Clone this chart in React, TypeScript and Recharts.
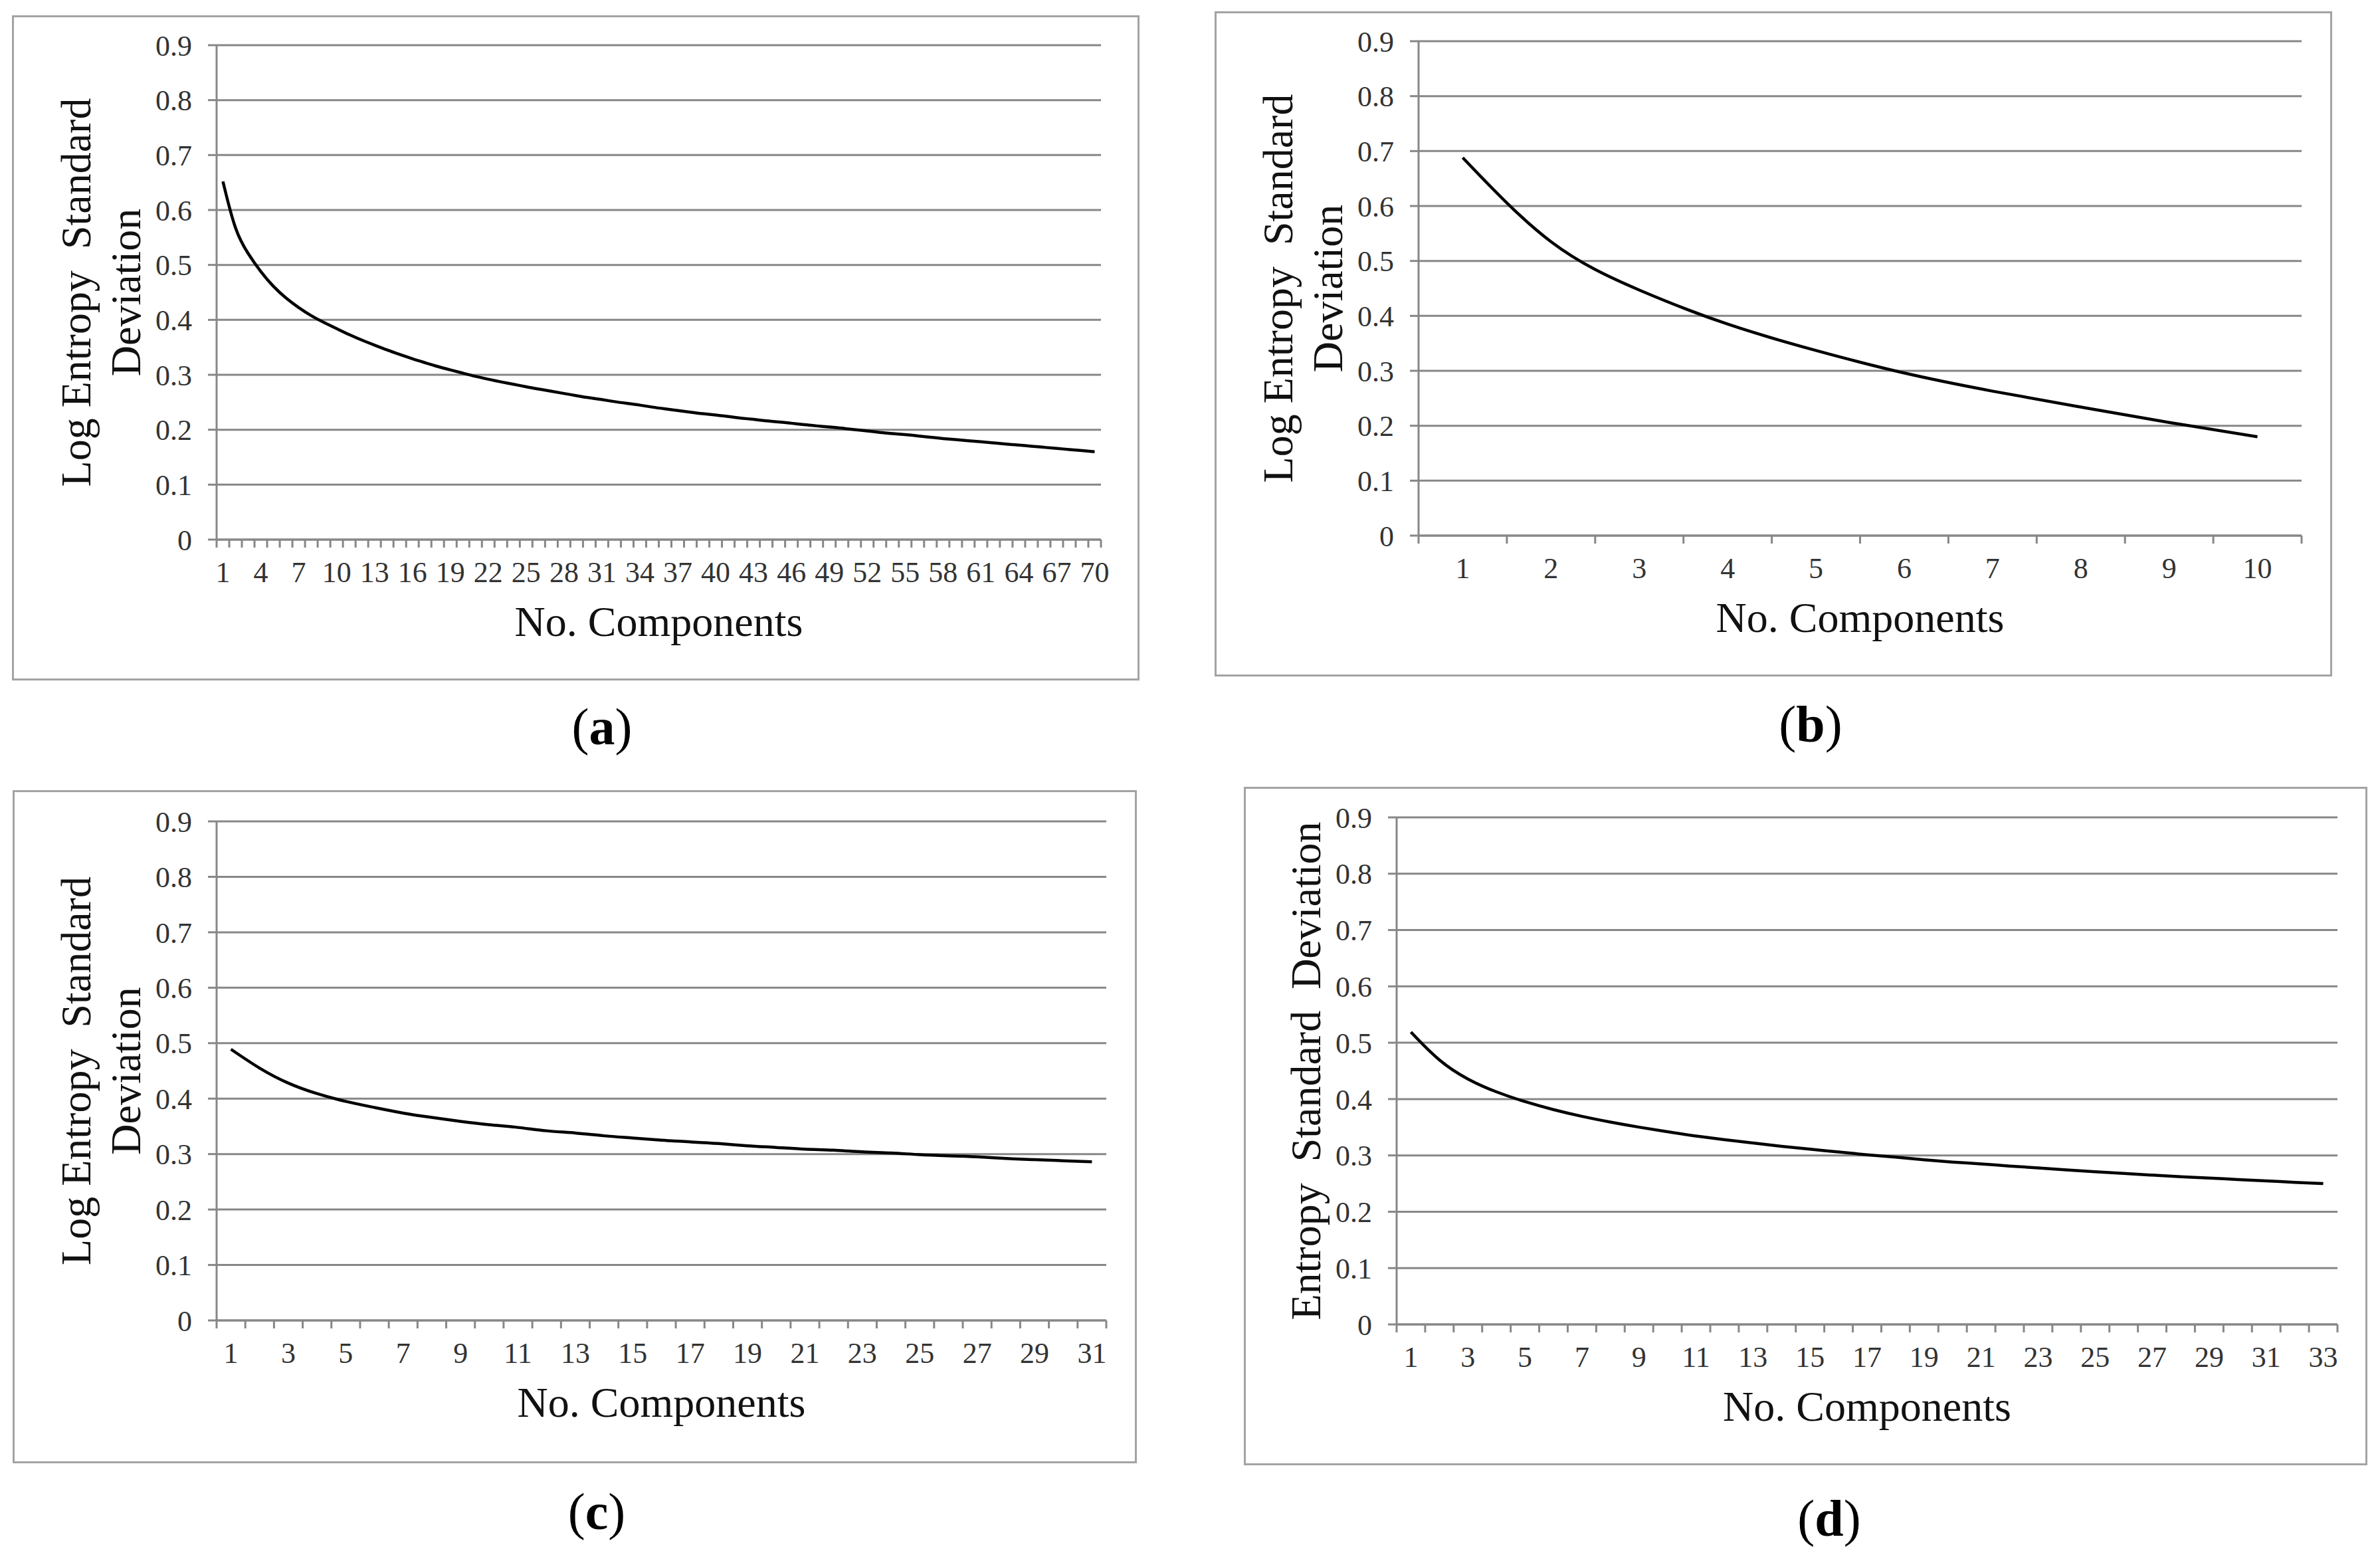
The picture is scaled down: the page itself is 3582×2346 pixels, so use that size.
import { CartesianGrid, Line, LineChart, XAxis, YAxis } from 'recharts';

// values
const seriesA = [
  0.652, 0.558, 0.520, 0.487, 0.460, 0.439, 0.422, 0.407, 0.395, 0.384,
  0.373, 0.363, 0.354, 0.345, 0.337, 0.329, 0.322, 0.315, 0.309, 0.303,
  0.297, 0.292, 0.287, 0.283, 0.278, 0.274, 0.270, 0.266, 0.262, 0.258,
  0.255, 0.251, 0.248, 0.245, 0.241, 0.238, 0.235, 0.232, 0.229, 0.227,
  0.224, 0.221, 0.219, 0.216, 0.214, 0.212, 0.209, 0.207, 0.205, 0.203,
  0.200, 0.198, 0.195, 0.193, 0.191, 0.189, 0.186, 0.184, 0.182, 0.180,
  0.178, 0.176, 0.174, 0.172, 0.170, 0.168, 0.166, 0.164, 0.162, 0.160,
];
const seriesB = [0.688, 0.535, 0.447, 0.385, 0.337, 0.296, 0.263, 0.234, 0.206, 0.180];
const seriesC = [
  0.489, 0.455, 0.428, 0.409, 0.395, 0.384, 0.374, 0.366, 0.359, 0.353,
  0.348, 0.342, 0.338, 0.333, 0.329, 0.325, 0.322, 0.319, 0.315, 0.312,
  0.309, 0.307, 0.304, 0.302, 0.299, 0.297, 0.295, 0.292, 0.290, 0.288,
  0.286,
];
const seriesD = [
  0.519, 0.466, 0.434, 0.412, 0.395, 0.381, 0.369, 0.359, 0.350, 0.342,
  0.334, 0.328, 0.322, 0.316, 0.311, 0.306, 0.301, 0.297, 0.292, 0.288,
  0.285, 0.281, 0.278, 0.274, 0.271, 0.268, 0.265, 0.262, 0.260, 0.257,
  0.255, 0.252, 0.250,
];

// labelled categories on each x axis
const ticksA = [1, 4, 7, 10, 13, 16, 19, 22, 25, 28, 31, 34, 37, 40, 43, 46, 49, 52, 55, 58, 61, 64, 67, 70];
const ticksB = [1, 2, 3, 4, 5, 6, 7, 8, 9, 10];
const ticksC = [1, 3, 5, 7, 9, 11, 13, 15, 17, 19, 21, 23, 25, 27, 29, 31];
const ticksD = [1, 3, 5, 7, 9, 11, 13, 15, 17, 19, 21, 23, 25, 27, 29, 31, 33];

const yTicks = [0, 0.1, 0.2, 0.3, 0.4, 0.5, 0.6, 0.7, 0.8, 0.9];

const titleLog = ['Log Entropy  Standard', 'Deviation'];
const titlePlain = ['Entropy  Standard  Deviation'];
const xTitle = 'No. Components';

const FONT = '"Liberation Serif", "Times New Roman", serif';
const GRID = '#878787';
const TEXT = '#333';

type Rect = { l: number; t: number; r: number; b: number };

const AXW = 120;
const AXH = 100;

function Panel({ box, plot, values, labels, title, curve = 'natural' }: {
  box: Rect; plot: Rect; values: number[]; labels: number[]; title: string[]; curve?: any;
}) {
  const data = values.map((v, i) => ({ k: i + 1, v }));
  const n = values.length;
  const bounds = values.map((_, i) => i + 0.5).concat([n + 0.5]);
  const xTicks = [...bounds, ...labels].sort((a, b) => a - b);
  const W = box.r - box.l;
  const H = box.b - box.t;
  const margin = {
    top: plot.t - box.t,
    right: box.r - plot.r,
    left: plot.l - box.l - AXW,
    bottom: box.b - plot.b - AXH,
  };
  const cy = (plot.t + plot.b) / 2 - box.t;
  const baseX = title.length > 1 ? [plot.l - box.l - 190, plot.l - box.l - 115] : [plot.l - box.l - 115];

  // tick marks sit between categories, labels on the categories
  const renderTick = (props: any) => {
    const { x, y, payload } = props;
    const v = payload.value;
    if (!Number.isInteger(v)) {
      return <line x1={x} x2={x} y1={y} y2={y + 12} stroke={GRID} strokeWidth={3} />;
    }
    return (
      <text x={x} y={y + 64} textAnchor="middle" fontSize={44} fill={TEXT} fontFamily={FONT}>
        {v}
      </text>
    );
  };

  return (
    <>
      <div
        style={{
          position: 'absolute', left: box.l, top: box.t, width: W, height: H,
          border: '3px solid #a3a3a3', boxSizing: 'border-box',
        }}
      />
      <div style={{ position: 'absolute', left: box.l, top: box.t, width: W, height: H }}>
        <LineChart width={W} height={H} data={data} margin={margin}>
          <CartesianGrid vertical={false} stroke={GRID} strokeWidth={3} />
          <XAxis
            dataKey="k"
            type="number"
            domain={[0.5, n + 0.5]}
            ticks={xTicks}
            interval={0}
            height={AXH}
            tickSize={0}
            tickMargin={0}
            tickLine={false}
            axisLine={{ stroke: GRID, strokeWidth: 3 }}
            tick={renderTick}
          />
          <YAxis
            type="number"
            domain={[0, 0.9]}
            ticks={yTicks}
            interval={0}
            width={AXW}
            tickSize={13}
            tickMargin={24}
            axisLine={{ stroke: GRID, strokeWidth: 3 }}
            tickLine={{ stroke: GRID, strokeWidth: 3 }}
            tick={{ fontSize: 44, fill: TEXT, fontFamily: FONT }}
          />
          <Line
            type={curve}
            dataKey="v"
            stroke="#000"
            strokeWidth={4.5}
            dot={false}
            isAnimationActive={false}
          />
        </LineChart>
      </div>
      <svg
        width={W}
        height={H}
        style={{ position: 'absolute', left: box.l, top: box.t, pointerEvents: 'none' }}
      >
        {title.map((line, i) => (
          <text
            key={line}
            x={baseX[i]}
            y={cy}
            transform={`rotate(-90 ${baseX[i]} ${cy})`}
            textAnchor="middle"
            fontSize={64}
            fontFamily={FONT}
            fill="#111"
            style={{ whiteSpace: 'pre' }}
          >
            {line}
          </text>
        ))}
        <text
          x={(plot.l + plot.r) / 2 - box.l}
          y={plot.b - box.t + 145}
          textAnchor="middle"
          fontSize={64}
          fontFamily={FONT}
          fill="#111"
        >
          {xTitle}
        </text>
      </svg>
    </>
  );
}

function Letter({ x, y, ch }: { x: number; y: number; ch: string }) {
  return (
    <text x={x} y={y} textAnchor="middle" fontSize={78} fontFamily={FONT} fill="#000">
      (<tspan fontWeight="bold">{ch}</tspan>)
    </text>
  );
}

export default function App() {
  return (
    <div
      style={{
        position: 'absolute', left: 0, top: 0, width: 3582, height: 2346,
        background: '#fff', overflow: 'hidden',
      }}
    >
      <Panel
        box={{ l: 18, t: 23, r: 1715, b: 1024 }}
        plot={{ l: 326, t: 68, r: 1657, b: 812 }}
        values={seriesA}
        labels={ticksA}
        title={titleLog}
        curve="basis"
      />
      <Panel
        box={{ l: 1828, t: 17, r: 3510, b: 1018 }}
        plot={{ l: 2135, t: 62, r: 3464, b: 806 }}
        values={seriesB}
        labels={ticksB}
        title={titleLog}
      />
      <Panel
        box={{ l: 19, t: 1189, r: 1711, b: 2202 }}
        plot={{ l: 326, t: 1236, r: 1665, b: 1987 }}
        values={seriesC}
        labels={ticksC}
        title={titleLog}
      />
      <Panel
        box={{ l: 1872, t: 1184, r: 3563, b: 2205 }}
        plot={{ l: 2102, t: 1230, r: 3518, b: 1993 }}
        values={seriesD}
        labels={ticksD}
        title={titlePlain}
        curve="basis"
      />
      <svg width={3582} height={2346} style={{ position: 'absolute', left: 0, top: 0, pointerEvents: 'none' }}>
        <Letter x={906} y={1120} ch="a" />
        <Letter x={2725} y={1116} ch="b" />
        <Letter x={898} y={2301} ch="c" />
        <Letter x={2753} y={2311} ch="d" />
      </svg>
    </div>
  );
}
